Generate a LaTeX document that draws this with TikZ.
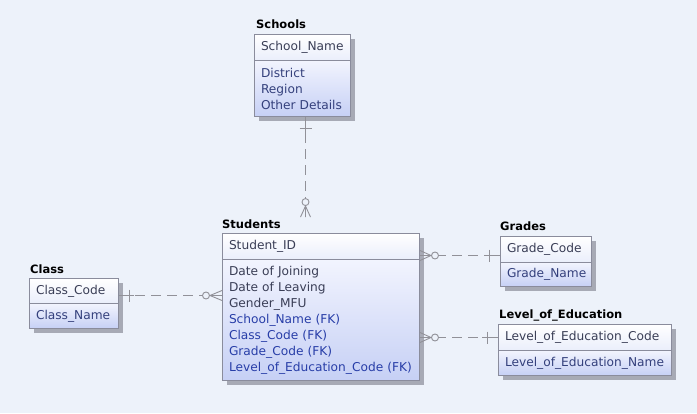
\documentclass[tikz,border=0pt]{standalone}
\usepackage{fontspec}
\setmainfont{DejaVu Sans}
\usetikzlibrary{positioning,shadows,calc}

\definecolor{bgcol}{RGB}{237,242,250}
\definecolor{boxline}{RGB}{138,140,156}
\definecolor{relline}{RGB}{145,145,152}
\definecolor{keytext}{RGB}{58,62,86}
\definecolor{attrtext}{RGB}{52,64,124}
\definecolor{fktext}{RGB}{40,62,168}
\definecolor{keybot}{RGB}{234,238,251}
\definecolor{bodytop}{RGB}{242,244,254}
\definecolor{bodybot}{RGB}{198,208,245}
\definecolor{shadowcol}{RGB}{150,152,164}

\begin{document}
\begin{tikzpicture}[x=1pt,y=-1pt,
  font=\fontsize{12.2}{16}\selectfont,
  keybox/.style={rectangle,draw=boxline,line width=1pt,anchor=north west,
    top color=white,bottom color=keybot,text=keytext,align=left,
    inner xsep=6.5pt,inner ysep=0pt,minimum height=26pt,text width=#1,
    drop shadow={shadow xshift=4pt,shadow yshift=-4pt,fill=shadowcol,opacity=0.8}},
  attrbox/.style={rectangle,draw=boxline,line width=1pt,
    top color=bodytop,bottom color=bodybot,text=attrtext,align=left,
    inner xsep=6.5pt,inner ysep=0pt,text width=#1,
    drop shadow={shadow xshift=4pt,shadow yshift=-4pt,fill=shadowcol,opacity=0.8}},
  title/.style={font=\fontsize{11.5}{12}\selectfont\bfseries,text=black,inner sep=0pt},
  rel/.style={draw=relline,line width=0.9pt,dash pattern=on 10pt off 6pt},
  relend/.style={draw=relline,line width=0.9pt}]

  \fill[bgcol] (0,0) rectangle (697,413);
  \useasboundingbox (0,0) rectangle (697,413);

  % entities
  \node[keybox=83pt] (SchoolsKey) at (254,34) {School\_Name};
  \node[attrbox=83pt,minimum height=56pt,below=-1pt of SchoolsKey] (SchoolsAttr)
    {District\\Region\\Other Details};
  \node[title,above right=5.5pt and 2pt of SchoolsKey.north west,anchor=base west] (SchoolsTitle) {Schools};

  \node[keybox=184pt] (StudentsKey) at (222,233) {Student\_ID};
  \node[attrbox=184pt,minimum height=121pt,below=-1pt of StudentsKey,text=keytext] (StudentsAttr)
    {Date of Joining\\Date of Leaving\\Gender\_MFU\\
     \textcolor{fktext}{School\_Name (FK)}\\\textcolor{fktext}{Class\_Code (FK)}\\
     \textcolor{fktext}{Grade\_Code (FK)}\\\textcolor{fktext}{Level\_of\_Education\_Code (FK)}};
  \node[title,above right=5pt and 0pt of StudentsKey.north west,anchor=base west] (StudentsTitle) {Students};

  \node[keybox=78pt] (GradesKey) at (500,236) {Grade\_Code};
  \node[attrbox=78pt,minimum height=24pt,below=-1pt of GradesKey] (GradesAttr) {Grade\_Name};
  \node[title,above right=6pt and 0pt of GradesKey.north west,anchor=base west] (GradesTitle) {Grades};

  \node[keybox=160pt] (LevelKey) at (498,324) {Level\_of\_Education\_Code};
  \node[attrbox=160pt,minimum height=25pt,below=-1pt of LevelKey] (LevelAttr) {Level\_of\_Education\_Name};
  \node[title,above right=5.5pt and 1pt of LevelKey.north west,anchor=base west] (LevelTitle) {Level\_of\_Education};

  \node[keybox=76pt,minimum height=25pt] (ClassKey) at (29,278) {Class\_Code};
  \node[attrbox=76pt,minimum height=25pt,below=-1pt of ClassKey] (ClassAttr) {Class\_Name};
  \node[title,above right=5pt and 1pt of ClassKey.north west,anchor=base west] (ClassTitle) {Class};

  % relationships
  \coordinate (sc1) at ([xshift=3pt]SchoolsAttr.south);
  \coordinate (sc2) at ([yshift=2pt]sc1 |- StudentsTitle.north);
  \draw[rel] (sc1) -- (sc2);
  \draw[relend] (sc1) -- ($(sc1)+(0,16)$);
  \draw[relend] ($(sc1)+(-6,11)$) -- ($(sc1)+(6,11)$);
  \draw[relend,fill=bgcol] ($(sc2)+(0,-15)$) circle[radius=3.5pt];
  \draw[relend] ($(sc2)+(-5,0)$) -- ($(sc2)+(0,-11)$) -- ($(sc2)+(5,0)$)
    ($(sc2)+(0,-11)$) -- (sc2);

  \coordinate (gr1) at ([yshift=-6pt]GradesKey.west);
  \coordinate (gr2) at (StudentsKey.east |- gr1);
  \draw[rel] (gr2) -- (gr1);
  \draw[relend] (gr1) -- ($(gr1)+(-16,0)$);
  \draw[relend] ($(gr1)+(-11,-6)$) -- ($(gr1)+(-11,6)$);
  \draw[relend,fill=bgcol] ($(gr2)+(15,0)$) circle[radius=3.5pt];
  \draw[relend] ($(gr2)+(0,-5)$) -- ($(gr2)+(11,0)$) -- ($(gr2)+(0,5)$)
    ($(gr2)+(11,0)$) -- (gr2);

  \coordinate (lv1) at (LevelKey.west);
  \coordinate (lv2) at (StudentsKey.east |- lv1);
  \draw[rel] (lv2) -- (lv1);
  \draw[relend] (lv1) -- ($(lv1)+(-16,0)$);
  \draw[relend] ($(lv1)+(-11,-6)$) -- ($(lv1)+(-11,6)$);
  \draw[relend,fill=bgcol] ($(lv2)+(15,0)$) circle[radius=3.5pt];
  \draw[relend] ($(lv2)+(0,-5)$) -- ($(lv2)+(11,0)$) -- ($(lv2)+(0,5)$)
    ($(lv2)+(11,0)$) -- (lv2);

  \coordinate (cl1) at ([yshift=-4.5pt]ClassKey.east);
  \coordinate (cl2) at (StudentsKey.west |- cl1);
  \draw[rel] (cl1) -- (cl2);
  \draw[relend] (cl1) -- ($(cl1)+(15,0)$);
  \draw[relend] ($(cl1)+(10,-6)$) -- ($(cl1)+(10,6)$);
  \draw[relend,fill=bgcol] ($(cl2)+(-16,0)$) circle[radius=3.5pt];
  \draw[relend] ($(cl2)+(0,-5)$) -- ($(cl2)+(-12,0)$) -- ($(cl2)+(0,5)$)
    ($(cl2)+(-12,0)$) -- (cl2);
\end{tikzpicture}
\end{document}
